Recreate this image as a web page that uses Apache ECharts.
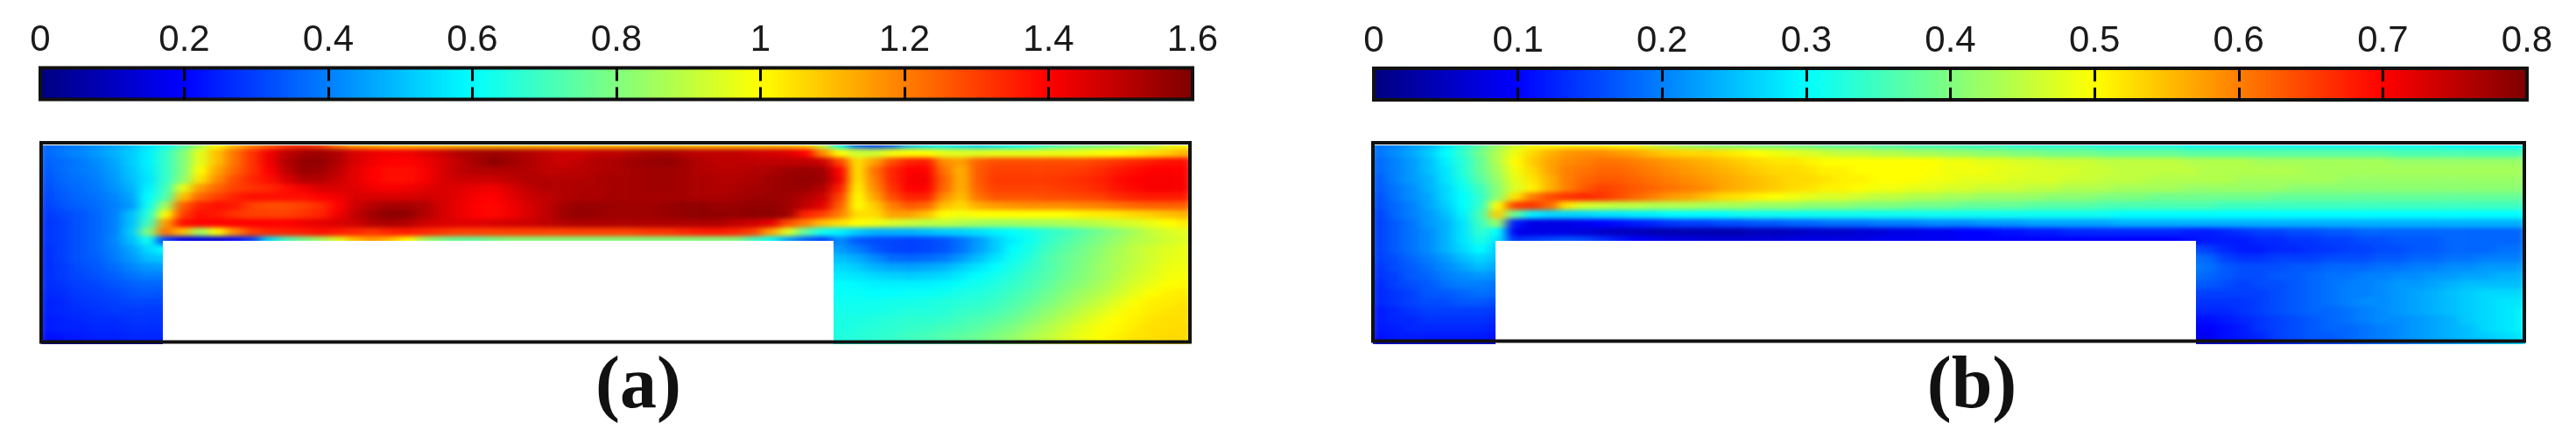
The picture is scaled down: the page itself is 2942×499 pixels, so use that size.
<!DOCTYPE html>
<html><head><meta charset="utf-8">
<style>
html,body{margin:0;padding:0;background:#fff;overflow:hidden}
#clip{position:absolute;left:0;top:0;width:2942px;height:499px;
 clip-path:path('M47 166H1359V393H952V275H186V393H47Z M1568 166H2884V393H2508V275H1708V393H1568Z');}
#field{position:absolute;left:0;top:0;width:2942px;height:499px;filter:url(#soft);}
#main{position:absolute;left:0;top:0;width:2942px;height:499px;}
</style>
<script src="https://cdn.jsdelivr.net/npm/echarts@6/dist/echarts.min.js"></script>
</head><body>
<svg width="0" height="0" style="position:absolute"><filter id="soft" x="0" y="0" width="100%" height="100%" color-interpolation-filters="sRGB"><feGaussianBlur stdDeviation="6.5 2.6"/></filter></svg>
<div id="clip"><div id="field"></div></div>
<div id="main"></div>
<script>
// Colour-bar tick range
const rangeA = [0, 1.6], stepA = 0.2;
const rangeB = [0, 0.8], stepB = 0.1;
const panelLabels = ['(a)', '(b)'];
const jet = ['#00007f','#0000ff','#007fff','#00ffff','#7fff7f','#ffff00','#ff7f00','#ff0000','#7f0000'];

// Panel (a): values x100, rows top to bottom, channel rows span all 67 columns
const upperA = [
[36,38,40,43,46,50,56,62,72,86, 100,110,118,124,130,132,128,118,112,110, 108,108,108,108,108,108,108,108,108,108, 108,108,108,108,108,108,108,108,108,108, 108,108,108,108,106,90,60,35,30,35, 50,55,58,55,52,55,58,62,68,72, 75,78,80,84,88,95,100],
[36,39,41,44,48,52,58,68,80,96, 110,122,132,142,150,154,155,152,146,143, 142,142,145,148,152,154,155,154,152,150, 148,148,150,150,152,154,154,152,150,150, 150,148,147,145,140,118,100,92,92,98, 100,100,96,95,95,96,96,96,97,97, 98,99,100,102,105,108,112],
[35,37,39,42,46,52,58,68,80,96, 110,122,132,142,152,157,157,152,146,142, 140,140,142,146,150,154,158,155,152,150, 148,150,152,153,155,156,157,155,152,150, 150,150,150,150,150,148,130,105,115,128, 135,136,118,115,125,128,128,128,128,128, 128,130,132,134,136,138,138],
[34,37,39,41,45,51,57,68,80,100, 114,124,132,140,150,156,155,150,144,140, 138,138,141,146,150,152,152,152,152,150, 150,151,152,153,154,155,155,154,152,151, 151,152,153,155,156,155,140,104,122,134, 140,140,122,112,126,130,130,130,130,130, 131,133,136,138,140,140,140],
[33,36,38,40,44,50,56,68,82,104, 118,128,134,138,146,152,152,148,144,140, 138,138,141,146,148,148,148,150,152,152, 152,152,153,154,154,155,155,154,153,152, 152,153,155,156,157,156,142,104,120,134, 141,142,125,112,126,131,131,131,131,132, 133,135,138,140,141,141,141],
[32,35,37,39,43,48,58,70,96,116, 124,130,132,134,138,142,146,146,145,142, 141,142,144,146,145,143,142,146,150,152, 152,153,153,154,154,155,155,154,153,152, 153,154,155,156,156,152,136,102,118,132, 140,140,124,112,125,130,130,130,130,131, 132,134,137,139,141,141,141],
[31,34,36,38,41,46,60,72,110,124, 130,135,138,138,138,138,140,142,146,146, 146,146,147,146,144,141,140,144,148,150, 152,153,153,154,154,154,154,154,153,153, 154,155,156,155,152,148,130,100,114,128, 135,135,118,110,122,127,127,127,128,128, 129,130,133,135,136,136,136],
[30,33,35,37,40,44,62,85,125,135, 138,136,130,128,128,130,133,140,148,152, 154,154,152,147,143,140,139,142,146,150, 154,156,156,155,155,155,156,157,157,156, 156,157,157,155,150,144,125,100,108,120, 126,124,110,106,113,116,117,118,118,118, 119,120,122,124,125,125,125],
[29,31,33,36,40,50,66,100,130,138, 136,132,130,130,130,132,135,142,150,155, 158,157,152,147,143,140,139,142,146,150, 155,157,156,155,155,155,156,157,158,157, 157,158,158,155,135,130,120,105,105,115, 115,110,100,98,100,100,100,100,100,100, 102,103,104,106,108,110,112],
[28,30,33,36,40,50,70,115,138,140, 140,140,140,140,140,142,144,146,148,152, 154,152,148,146,145,145,146,147,148,150, 152,153,153,153,153,153,153,153,153,153, 150,148,144,128,120,110,105,100,98,95, 92,90,90,88,86,85,85,86,86,87, 88,90,92,94,97,100,103],
[28,30,33,36,40,52,80,122,110,85, 100,118,130,134,135,136,138,136,134,132, 135,136,134,132,130,130,130,130,130,130, 130,130,130,130,130,132,132,134,136,136, 134,130,115,95,75,62,58,52,48,48, 48,50,52,53,55,58,60,63,67,70, 74,78,82,86,91,94,96],
[28,30,33,36,41,50,62,30,18,15, 15,22,30,55,70,78,85,95,110,115, 110,100,85,78,75,75,78,80,80,80, 80,80,80,80,80,80,80,80,80,80, 80,70,60,45,35,30,42,34,32,31, 30,31,33,38,44,52,58,62,68,72, 76,80,84,88,90,93,95]
];
// Panel (a): inlet block, columns 0-7
const inletA = [
[27,30,33,36,40,46,54,60],[27,30,33,35,39,44,50,52],[27,29,32,34,37,41,44,45],[27,29,31,33,35,38,40,40],
[27,28,30,31,33,35,36,36],[26,27,29,30,31,33,34,33],[25,26,28,29,30,31,31,31],[25,26,27,28,29,29,29,29],
[24,25,26,27,27,28,28,28],[24,25,25,26,26,27,27,27],[22,23,24,25,25,26,26,26],[15,15,15,15,15,15,15,15]
];
// Panel (a): outlet block, columns 45-66
const outletA = [
[46,44,40,34,31,30,31,33,38,45,52,60,64,70,74,78,82,86,90,93,95,97],
[50,50,47,42,37,36,37,39,44,50,56,62,66,72,76,79,83,87,90,93,96,97],
[54,54,52,48,46,45,46,48,52,56,60,64,68,72,76,80,84,87,91,94,97,98],
[57,57,56,54,53,52,53,54,57,60,63,66,70,73,77,81,84,88,92,95,98,99],
[59,60,59,58,58,58,58,59,61,63,65,68,71,75,79,82,86,90,94,97,100,101],
[61,61,61,60,60,61,61,62,64,65,67,70,73,77,81,85,88,92,96,100,102,103],
[62,62,62,62,63,63,64,65,66,67,69,72,75,79,83,87,91,95,99,102,103,104],
[63,63,63,63,64,65,65,66,68,69,71,74,78,82,86,90,94,98,101,103,104,105],
[63,64,64,65,66,67,67,68,70,72,74,77,81,85,89,93,97,100,102,104,105,105],
[64,64,65,66,67,68,69,71,72,74,77,80,84,88,92,96,99,101,103,105,105,106],
[64,65,66,67,68,70,71,73,75,77,80,83,87,90,94,97,100,102,104,105,106,106],
[62,63,64,65,66,68,69,71,73,75,78,81,85,88,92,95,98,101,103,104,105,105]
];

// Panel (b): values x100
const upperB = [
[19,20,22,24,28,33,37,42,46,49, 50,51,51,51,50,49,46,44,42,41, 40,40,39,39,38,38,37,37,37,36, 36,35,35,35,34,34,34,33,33,33, 33,33,32,32,32,32,32,31,31,31, 31,31,31,31,31,31,31,31,31,31, 31,31,30,30,30,30,30],
[19,21,23,26,30,34,39,44,49,53, 56,58,59,59,58,57,55,54,53,53, 52,51,50,49,48,47,46,45,45,44, 44,43,43,42,42,41,41,40,40,39, 39,39,38,38,38,38,38,37,37,37, 37,37,37,37,37,37,37,37,37,36, 36,36,36,36,36,36,36],
[18,20,22,25,29,33,38,44,50,54, 57,59,60,61,61,60,59,58,57,56, 55,54,53,52,52,51,50,50,50,50, 50,50,50,49,49,48,48,47,47,46, 46,46,45,45,45,45,45,44,44,44, 44,43,43,43,43,43,43,43,43,42, 42,42,42,42,42,42,42],
[18,20,22,25,28,33,38,43,49,53, 57,60,61,62,62,61,60,59,58,57, 56,55,54,53,53,52,51,51,50,50, 50,50,50,49,49,49,48,48,47,47, 47,46,46,45,45,45,45,45,44,44, 44,44,44,44,43,43,43,43,43,43, 43,43,43,43,43,43,43],
[17,20,22,24,28,32,37,42,48,52, 56,60,62,63,63,62,61,60,59,58, 57,56,55,54,53,53,52,51,51,50, 50,50,49,49,48,48,48,47,47,47, 46,46,45,45,45,44,44,44,44,44, 43,43,43,43,43,43,42,42,42,42, 42,42,42,42,42,42,42],
[17,19,21,24,27,31,35,41,47,51, 56,60,63,65,64,63,62,61,60,59, 57,56,55,54,53,52,51,51,50,49, 49,48,48,47,47,46,46,46,45,45, 44,44,44,43,43,43,43,42,42,42, 42,42,42,41,41,41,41,41,41,41, 41,41,41,41,41,41,41],
[16,19,21,23,27,30,34,41,52,60, 64,66,67,66,64,62,60,58,57,55, 53,52,51,50,49,48,47,47,46,45, 45,44,44,43,43,42,42,42,42,41, 41,41,40,40,40,39,39,39,39,39, 39,39,38,38,38,38,38,38,38,38, 38,38,38,38,38,38,38],
[16,18,20,23,26,30,34,50,65,66, 62,52,47,46,45,45,44,44,44,43, 43,43,42,42,42,41,41,41,40,40, 40,39,39,39,38,38,38,38,37,37, 37,37,36,36,36,36,36,36,36,35, 35,35,35,35,35,35,35,35,35,35, 35,35,35,35,35,35,35],
[15,18,20,22,25,29,36,54,38,29, 27,27,27,28,28,29,29,30,30,30, 30,31,31,31,31,31,31,31,31,31, 31,31,31,31,31,31,31,31,31,31, 31,31,31,30,30,30,30,30,30,30, 30,30,30,30,30,30,30,30,30,30, 30,30,30,30,30,30,30],
[15,17,19,22,24,28,35,42,12,8, 8,8,9,10,11,12,13,14,15,15, 16,16,17,17,18,18,19,19,19,20, 20,20,21,21,21,22,22,22,23,23, 23,23,23,24,24,24,24,24,24,24, 24,24,24,24,24,24,24,24,24,24, 24,24,24,24,24,24,24],
[15,17,19,21,24,28,34,30,9,8, 8,8,7,6,5,5,4,4,4,4, 4,4,5,5,5,6,6,6,7,7, 8,8,9,9,10,10,11,11,12,12, 13,13,13,13,13,13,13,12,12,13, 14,15,15,16,16,17,17,18,18,18, 18,18,18,18,18,18,18],
[15,17,19,21,24,28,32,28,14,15, 16,17,16,14,12,10,9,8,8,7, 7,7,7,7,8,8,8,8,8,9, 9,9,9,9,10,10,10,10,10,10, 10,10,10,10,10,10,10,11,12,12, 12,13,13,14,14,15,15,16,16,17, 17,17,18,18,18,18,18]
];
// Panel (b): inlet block, columns 0-7
const inletB = [
[15,17,19,21,24,27,30,26],[15,16,18,20,22,25,27,25],[14,16,17,19,21,23,25,23],[14,15,17,18,20,21,22,21],
[13,15,16,17,19,20,20,19],[13,14,15,17,17,18,19,18],[13,14,15,16,16,17,17,16],[12,13,14,15,15,15,15,14],
[12,13,13,14,14,14,14,13],[12,12,13,13,13,13,13,12],[11,12,12,12,12,12,12,11],[6,6,6,6,6,6,6,6]
];
// Panel (b): outlet block, columns 47-66
const outletB = [
[16,15,13,12,12,13,13,14,14,15,15,16,16,17,17,18,18,18,19,19],
[19,18,15,14,14,15,15,15,16,16,16,17,17,18,18,19,19,20,20,20],
[20,19,17,16,16,16,17,17,18,18,18,19,19,20,20,21,21,22,22,22],
[19,18,17,16,16,17,17,18,19,19,20,20,21,21,22,22,23,23,24,24],
[17,17,16,15,16,16,17,18,19,20,20,21,22,22,23,24,25,25,25,25],
[15,15,15,15,15,16,17,18,19,20,20,21,22,23,24,25,26,27,27,27],
[14,14,14,14,15,16,17,18,19,20,21,21,22,23,24,25,26,27,28,28],
[13,13,13,14,15,16,17,18,18,19,20,21,22,23,24,25,26,27,28,29],
[11,11,12,13,14,15,16,17,18,19,20,21,21,22,23,24,26,27,28,29],
[9,10,11,12,14,15,16,17,18,18,19,20,21,22,23,24,25,27,28,29],
[8,9,11,12,13,15,16,17,17,18,19,20,21,22,23,24,25,26,27,28],
[5,6,7,8,10,12,13,14,15,16,17,18,19,20,21,22,23,24,25,26]
];

const COLS = 67, ROWS = 24;
const colCats = Array.from({length: COLS}, (_, i) => String(i));
const rowCats = Array.from({length: ROWS}, (_, i) => String(i));

function cells(upper, inlet, outlet, outletStart) {
  const out = [];
  upper.forEach((r, y) => r.forEach((v, x) => out.push([x, y, v / 100])));
  inlet.forEach((r, y) => r.forEach((v, x) => out.push([x, y + upper.length, v / 100])));
  outlet.forEach((r, y) => r.forEach((v, x) => out.push([x + outletStart, y + upper.length, v / 100])));
  return out;
}
const hiddenCat = d => ({type: 'category', data: d, show: false});
const field = echarts.init(document.getElementById('field'), null, {renderer: 'canvas'});
field.setOption({
  animation: false,
  grid: [
    {left: 41, top: 160, width: 1323.25, height: 240},
    {left: 1562, top: 160, width: 1326.6, height: 240}
  ],
  xAxis: [Object.assign(hiddenCat(colCats), {gridIndex: 0}), Object.assign(hiddenCat(colCats), {gridIndex: 1})],
  yAxis: [Object.assign(hiddenCat(rowCats), {gridIndex: 0, inverse: true}), Object.assign(hiddenCat(rowCats), {gridIndex: 1, inverse: true})],
  visualMap: [
    {show: false, seriesIndex: 0, min: rangeA[0], max: rangeA[1], dimension: 2, inRange: {color: jet}},
    {show: false, seriesIndex: 1, min: rangeB[0], max: rangeB[1], dimension: 2, inRange: {color: jet}}
  ],
  series: [
    {type: 'heatmap', xAxisIndex: 0, yAxisIndex: 0, progressive: 0, data: cells(upperA, inletA, outletA, 45)},
    {type: 'heatmap', xAxisIndex: 1, yAxisIndex: 1, progressive: 0, data: cells(upperB, inletB, outletB, 47)}
  ]
});

const font = 'Liberation Sans';
const barAxis = (gridIndex, range, step) => ({
  type: 'value', gridIndex, position: 'top', min: range[0], max: range[1], interval: step, z: 6,
  axisLine: {show: false}, axisTick: {show: false},
  axisLabel: {show: true, margin: 10, fontSize: 42, fontFamily: font, color: '#1a1a1a', showMinLabel: true, showMaxLabel: true},
  splitLine: {show: true, showMinLine: false, showMaxLine: false, lineStyle: {color: '#000', width: 3, type: [15, 7]}}
});
const blankValue = (gridIndex) => ({type: 'value', gridIndex, show: false, min: 0, max: 1, splitLine: {show: false}});
const frame = {show: true, borderColor: '#111', borderWidth: 4, backgroundColor: 'transparent', z: 6};

const main = echarts.init(document.getElementById('main'), null, {renderer: 'canvas'});
main.setOption({
  animation: false,
  backgroundColor: 'transparent',
  title: [
    {text: panelLabels[0], left: 724, top: 396, textAlign: 'center', textStyle: {fontFamily: 'Liberation Serif', fontWeight: 'bold', fontSize: 84, color: '#111'}},
    {text: panelLabels[1], left: 2247, top: 396, textAlign: 'center', textStyle: {fontFamily: 'Liberation Serif', fontWeight: 'bold', fontSize: 84, color: '#111'}}
  ],
  visualMap: [
    {type: 'continuous', seriesIndex: [], orient: 'horizontal', min: rangeA[0], max: rangeA[1], left: 45, top: 77, itemWidth: 36, itemHeight: 1316, padding: 0, text: null, showLabel: false, calculable: false, hoverLink: false, realtime: false, inRange: {color: jet}, z: 1},
    {type: 'continuous', seriesIndex: [], orient: 'horizontal', min: rangeB[0], max: rangeB[1], left: 1568, top: 77, itemWidth: 36, itemHeight: 1318, padding: 0, text: null, showLabel: false, calculable: false, hoverLink: false, realtime: false, inRange: {color: jet}, z: 1}
  ],
  grid: [
    {left: 46, top: 77.5, width: 1316, height: 36, show: true, borderColor: '#111', borderWidth: 4, backgroundColor: 'transparent', z: 6},
    {left: 1569, top: 78, width: 1317, height: 36, show: true, borderColor: '#111', borderWidth: 4, backgroundColor: 'transparent', z: 6},
    Object.assign({left: 47, top: 163, width: 1312, height: 227.5}, frame),
    Object.assign({left: 1568, top: 163, width: 1315, height: 226.5}, frame)
  ],
  xAxis: [barAxis(0, rangeA, stepA), barAxis(1, rangeB, stepB), blankValue(2), blankValue(3)],
  yAxis: [blankValue(0), blankValue(1), blankValue(2), blankValue(3)],
  series: []
});
</script>
</body></html>
